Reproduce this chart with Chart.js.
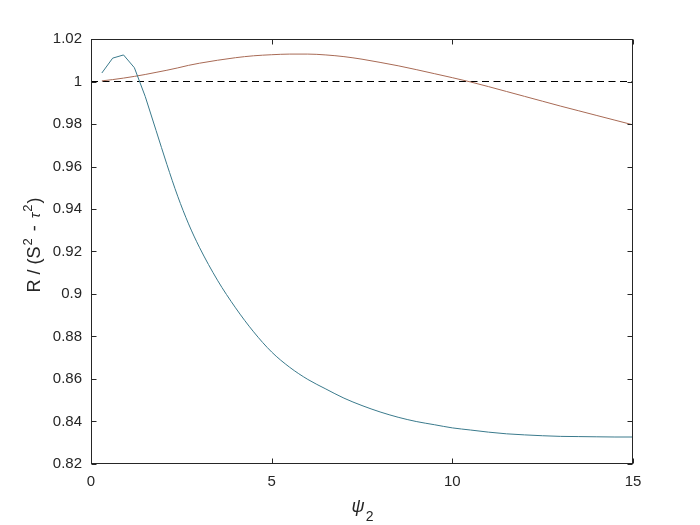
<!DOCTYPE html>
<html>
<head>
<meta charset="utf-8">
<script src="https://cdn.jsdelivr.net/npm/chart.js@4"></script>
<style>
  body { margin: 0; background: #fff; }
  #wrap { width: 700px; height: 525px; }
</style>
</head>
<body>
<div id="wrap"><canvas id="chart"></canvas></div>
<script>
// psi_2 samples
const psi = [0.3, 0.6, 0.9, 1.2, 1.5, 1.8, 2.1, 2.4, 2.7, 3.0, 3.5, 4.0, 4.5, 5.0, 5.5, 6.0, 6.5, 7.0, 7.5, 8.0,
  8.5, 9.0, 9.5, 10.0, 10.5, 11.0, 11.5, 12.0, 12.5, 13.0, 13.5, 14.0, 14.5, 15.0];
const blueVals = [1.004, 1.011, 1.0125, 1.0065, 0.993, 0.977, 0.961, 0.946, 0.933, 0.922, 0.9065, 0.8935, 0.8822, 0.8727,
  0.8655, 0.8598, 0.8553, 0.851, 0.8475, 0.8445, 0.842, 0.840, 0.8385, 0.837, 0.836, 0.835, 0.8342, 0.8337, 0.8333,
  0.833, 0.8329, 0.8328, 0.8327, 0.8327];
const redVals = [1.0003, 1.0009, 1.0016, 1.0024, 1.0033, 1.0043, 1.0053, 1.0064, 1.0076, 1.0086, 1.0100, 1.0112, 1.0121,
  1.0126, 1.0129, 1.0129, 1.0125, 1.0117, 1.0105, 1.0090, 1.0074, 1.0056, 1.0037, 1.0018, 0.9998, 0.9976, 0.9953,
  0.9930, 0.9907, 0.9884, 0.9862, 0.9840, 0.9818, 0.9796];
const refX = [0, 15];
const refY = [1, 1];
const xTicks = [0, 5, 10, 15];
const yTicks = [0.82, 0.84, 0.86, 0.88, 0.9, 0.92, 0.94, 0.96, 0.98, 1, 1.02];

// the first few blue samples are joined by straight lines, the rest is smooth
const kink = 4;

const axisColor = '#262626';
const blue = '#3a7a8c';
const red = '#a86a55';
const font = "'Liberation Sans', Arial, sans-serif";

function pts(xs, ys) {
  return xs.map((x, i) => ({ x: x, y: ys[i] }));
}

// MATLAB style box with inward ticks on all four sides, plus axis labels
const boxPlugin = {
  id: 'box',
  afterDraw(chart) {
    const { ctx, chartArea: a, scales } = chart;
    const l = Math.round(a.left) + 0.5, r = Math.round(a.right) - 0.5;
    const t = Math.round(a.top) + 0.5, b = Math.round(a.bottom) - 0.5;
    const len = 5;
    ctx.save();
    ctx.strokeStyle = axisColor;
    ctx.lineWidth = 1;
    ctx.strokeRect(l, t, r - l, b - t);
    ctx.beginPath();
    xTicks.forEach(v => {
      const px = Math.round(scales.x.getPixelForValue(v)) + 0.5;
      ctx.moveTo(px, b); ctx.lineTo(px, b - len);
      ctx.moveTo(px, t); ctx.lineTo(px, t + len);
    });
    yTicks.forEach(v => {
      const py = Math.round(scales.y.getPixelForValue(v)) + 0.5;
      ctx.moveTo(l, py); ctx.lineTo(l + len, py);
      ctx.moveTo(r, py); ctx.lineTo(r - len, py);
    });
    ctx.stroke();

    ctx.fillStyle = axisColor;
    ctx.textBaseline = 'alphabetic';
    ctx.textAlign = 'left';

    // x label: psi_2
    const cx = (a.left + a.right) / 2;
    ctx.font = 'italic 18px ' + font;
    const w1 = ctx.measureText('\u03c8').width;
    ctx.font = '14px ' + font;
    const w2 = ctx.measureText('2').width;
    const x0 = cx - (w1 + w2) / 2;
    ctx.font = 'italic 18px ' + font;
    ctx.fillText('\u03c8', x0, 512);
    ctx.font = '14px ' + font;
    ctx.fillText('2', x0 + w1 + 1, 521);

    // y label: R / (S^2 - tau^2)
    const segs = [
      { s: 'R / (S', f: '18px ', dy: 0, gap: 1 },
      { s: '2', f: '13px ', dy: -8, gap: 2 },
      { s: ' - ', f: '18px ', dy: 0, gap: 2 },
      { s: '\u03c4', f: 'italic 15px ', dy: 0, gap: 1 },
      { s: '2', f: '13px ', dy: -8, gap: 1 },
      { s: ')', f: '18px ', dy: 0, gap: 0 }
    ];
    let total = 0;
    segs.forEach(g => { ctx.font = g.f + font; g.w = ctx.measureText(g.s).width; total += g.w + g.gap; });
    ctx.translate(40, 245);
    ctx.rotate(-Math.PI / 2);
    let pos = -total / 2;
    segs.forEach(g => {
      ctx.font = g.f + font;
      ctx.fillText(g.s, pos, g.dy);
      pos += g.w + g.gap;
    });
    ctx.restore();
  }
};

new Chart(document.getElementById('chart'), {
  type: 'line',
  data: {
    datasets: [
      {
        label: 'blue (start)',
        data: pts(psi.slice(0, kink + 1), blueVals.slice(0, kink + 1)),
        borderColor: blue,
        borderWidth: 1,
        pointRadius: 0,
        tension: 0
      },
      {
        label: 'blue',
        data: pts(psi.slice(kink), blueVals.slice(kink)),
        borderColor: blue,
        borderWidth: 1,
        pointRadius: 0,
        cubicInterpolationMode: 'monotone'
      },
      {
        label: 'red',
        data: pts(psi, redVals),
        borderColor: red,
        borderWidth: 1,
        pointRadius: 0,
        cubicInterpolationMode: 'monotone'
      },
      {
        label: 'ref',
        data: pts(refX, refY),
        borderColor: '#000000',
        borderWidth: 1,
        borderDash: [7, 4.5],
        pointRadius: 0
      }
    ]
  },
  options: {
    responsive: true,
    maintainAspectRatio: false,
    animation: false,
    layout: { padding: { top: 39, right: 67, left: 0, bottom: 0 } },
    plugins: {
      legend: { display: false },
      tooltip: { enabled: false }
    },
    scales: {
      x: {
        type: 'linear',
        min: 0,
        max: 15,
        afterFit: s => { s.height = 61; },
        afterBuildTicks: s => { s.ticks = xTicks.map(v => ({ value: v })); },
        grid: { display: false, drawTicks: false },
        border: { display: false },
        ticks: { color: axisColor, padding: 9, maxRotation: 0, font: { family: font, size: 15 } }
      },
      y: {
        type: 'linear',
        min: 0.82,
        max: 1.02,
        afterFit: s => { s.width = 91; },
        afterBuildTicks: s => { s.ticks = yTicks.map(v => ({ value: v })); },
        grid: { display: false, drawTicks: false },
        border: { display: false },
        ticks: {
          color: axisColor,
          padding: 9,
          font: { family: font, size: 15 },
          callback: v => String(+v.toFixed(2))
        }
      }
    }
  },
  plugins: [boxPlugin]
});
</script>
</body>
</html>
